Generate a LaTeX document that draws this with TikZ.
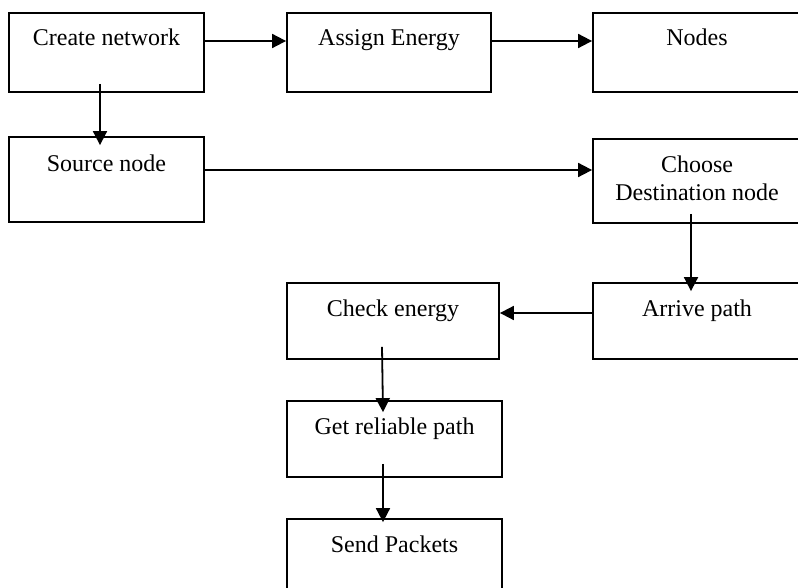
\documentclass[tikz,border=0pt]{standalone}
\usepackage{fontspec}
\setmainfont{Liberation Serif}
\usetikzlibrary{arrows.meta,calc}
\tikzset{
  box/.style={draw=black, line width=1.8pt, rectangle, inner sep=0pt, fill=none},
  txt/.style={anchor=base, inner sep=0pt, font=\fontsize{24}{28}\selectfont},
  arr/.style={draw=black, line width=1.8pt, -{Triangle[length=14pt,width=14pt]}}
}
\begin{document}
\begin{tikzpicture}[x=1pt,y=-1pt]
\useasboundingbox (0,0) rectangle (798,588);
\clip (0,0) rectangle (798,588);
\fill[white] (0,0) rectangle (798,588);
% boxes
\node[box, minimum width=195pt, minimum height=79pt] (cn) at (106.5,52.5) {};
\node[box, minimum width=204pt, minimum height=79pt] (ae) at (389,52.5) {};
\node[box, minimum width=208pt, minimum height=79pt] (nd) at (697,52.5) {};
\node[box, minimum width=195pt, minimum height=85pt] (sn) at (106.5,179.5) {};
\node[box, minimum width=208pt, minimum height=84pt] (cd) at (697,181) {};
\node[box, minimum width=212pt, minimum height=76pt] (ce) at (393,321) {};
\node[box, minimum width=208pt, minimum height=76pt] (ap) at (697,321) {};
\node[box, minimum width=215pt, minimum height=76pt] (gr) at (394.5,439) {};
\node[box, minimum width=215pt, minimum height=76pt] (sp) at (394.5,557) {};
% texts
\node[txt] (tcn) at ($(cn.north)+(0,33)$) {Create network};
\node[txt] (tae) at ($(ae.north)+(0,33)$) {Assign Energy};
\node[txt] (tnd) at ($(nd.north)+(0,33)$) {Nodes};
\node[txt] (tsn) at ($(sn.north)+(0,35)$) {Source node};
\node[txt] (tcd1) at ($(cd.north)+(0,34)$) {Choose};
\node[txt] (tcd2) at ($(cd.north)+(0,62)$) {Destination node};
\node[txt] (tce) at ($(ce.north)+(0,34)$) {Check energy};
\node[txt] (tap) at ($(ap.north)+(0,34)$) {Arrive path};
\node[txt] (tgr) at ($(gr.north)+(0,34)$) {Get reliable path};
\node[txt] (tsp) at ($(sp.north)+(0,34)$) {Send Packets};
% connectors
\draw[arr] ([yshift=11.5pt]cn.east) -- ([yshift=11.5pt]ae.west);
\draw[arr] ([yshift=11.5pt]ae.east) -- ([yshift=11.5pt]nd.west);
\draw[arr] ([xshift=-6.5pt,yshift=9pt]cn.south) -- ([xshift=-6.5pt,yshift=-9pt]sn.north);
\draw[arr] ([yshift=9.5pt]sn.east) -- ([yshift=9.5pt]sn.east -| cd.west);
\draw[arr] ([xshift=-6pt,yshift=10pt]cd.south) -- ([xshift=-6pt,yshift=-9pt]ap.north);
\draw[arr] ([yshift=8pt]ap.west) -- ([yshift=8pt]ap.west -| ce.east);
\draw[arr] ([xshift=-11pt,yshift=13pt]ce.south) -- ([xshift=-11.5pt,yshift=-12pt]gr.north);
\draw[arr] ([xshift=-11.5pt,yshift=14pt]gr.south) -- ([xshift=-11.5pt,yshift=-4pt]sp.north);
\end{tikzpicture}
\end{document}
